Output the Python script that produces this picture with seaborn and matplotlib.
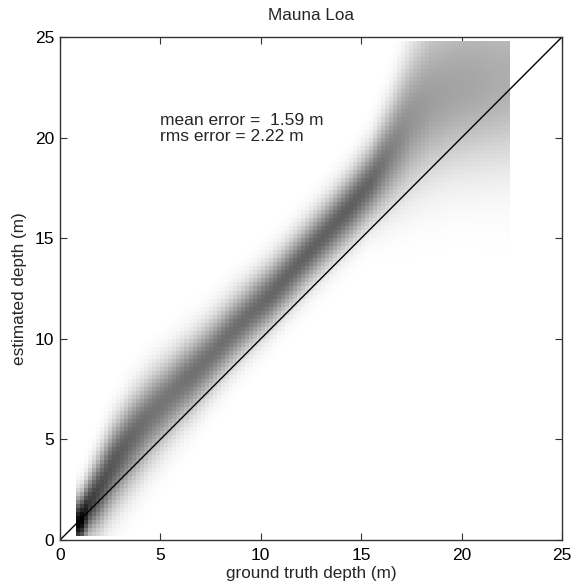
import numpy as np
import pandas as pd
import matplotlib
matplotlib.use("Agg")
import matplotlib.pyplot as plt
import seaborn as sns

# Ridge of the depth-estimate distribution, sampled along ground truth depth (m)
truth_knots = [0.9, 1.1, 1.5, 2.0, 2.6, 3.5, 4.5, 5.5, 6.5, 7.5, 8.5, 9.5, 10.5,
               11.5, 12.5, 13.5, 14.5, 15.5, 16.5, 17.5, 18.5, 19.5, 20.5, 21.5, 22.3]
ridge_est = [0.8, 1.0, 1.8, 2.6, 3.7, 5.0, 6.2, 7.2, 8.2, 9.2, 10.3, 11.3, 12.2,
             13.3, 14.4, 15.5, 16.6, 17.8, 19.3, 20.8, 21.8, 22.3, 22.6, 22.8, 23.0]
# peak frequency (normalised) along the ridge
ridge_peak = [1.0, 1.0, 0.78, 0.70, 0.66, 0.60, 0.55, 0.54, 0.56, 0.56, 0.57, 0.58, 0.60,
              0.61, 0.62, 0.62, 0.63, 0.60, 0.50, 0.42, 0.38, 0.36, 0.35, 0.33, 0.32]
# spread of the estimate above / below the ridge (m)
spread_up = [0.9, 0.9, 1.0, 1.15, 1.25, 1.3, 1.3, 1.25, 1.2, 1.15, 1.1, 1.05, 1.05,
             1.05, 1.05, 1.05, 1.1, 1.2, 1.6, 2.3, 3.0, 3.3, 3.5, 3.5, 3.5]
spread_down = [0.7, 0.8, 1.0, 1.3, 1.45, 1.55, 1.5, 1.4, 1.3, 1.2, 1.15, 1.1, 1.05,
               1.05, 1.05, 1.1, 1.15, 1.25, 1.7, 2.2, 2.5, 2.6, 2.7, 2.8, 2.9]

truth_range = (0.8, 22.4)
est_range = (0.2, 24.8)
bin_width = 0.2

mean_error = 1.59
rms_error = 2.22

# Bin grid
x_edges = np.arange(truth_range[0], truth_range[1] + 1e-9, bin_width)
y_edges = np.arange(est_range[0], est_range[1] + 1e-9, bin_width)
xc = 0.5 * (x_edges[:-1] + x_edges[1:])
yc = 0.5 * (y_edges[:-1] + y_edges[1:])

center = np.interp(xc, truth_knots, ridge_est)
peak = np.interp(xc, truth_knots, ridge_peak)
s_up = np.interp(xc, truth_knots, spread_up)
s_dn = np.interp(xc, truth_knots, spread_down)

X, Y = np.meshgrid(xc, yc, indexing="ij")
C = center[:, None]
S = np.where(Y >= C, s_up[:, None], s_dn[:, None])
W = peak[:, None] * np.exp(-0.5 * ((Y - C) / S) ** 2)
W[W < 0.004] = 0.0

df = pd.DataFrame({"truth": X.ravel(), "est": Y.ravel(), "w": W.ravel()})

sns.set_style("ticks")
plt.rcParams["font.family"] = ["Liberation Sans", "DejaVu Sans"]
plt.rcParams.update({
    "xtick.direction": "in", "ytick.direction": "in",
    "xtick.top": True, "ytick.right": True,
    "axes.edgecolor": "#333333", "xtick.color": "#333333", "ytick.color": "#333333",
    "xtick.labelcolor": "black", "ytick.labelcolor": "black",
    "axes.linewidth": 1.0,
})

fig = plt.figure(figsize=(5.73, 5.86), dpi=100)
ax = fig.add_axes([60 / 573, 46 / 586, 502 / 573, 503 / 586])

sns.histplot(data=df, x="truth", y="est", weights="w", bins=(x_edges, y_edges),
             cmap="gray_r", vmin=0, vmax=1, thresh=0, ax=ax)

axis_lim = [0, 25]
ax.plot(axis_lim, axis_lim, color="black", lw=1.0)

ax.set_xlim(axis_lim)
ax.set_ylim(axis_lim)
ax.set_xticks(np.arange(0, 26, 5))
ax.set_yticks(np.arange(0, 26, 5))
ax.tick_params(length=5, width=0.8, labelsize=12.5)
ax.tick_params(axis="x", pad=6)
ax.tick_params(axis="y", pad=4)
for s in ax.spines.values():
    s.set_visible(True)

ax.set_xlabel("ground truth depth (m)", fontsize=12.3, labelpad=2)
ax.set_ylabel("estimated depth (m)", fontsize=12.3, labelpad=6)
ax.set_title("Mauna Loa", fontsize=12.3, pad=12)

ax.text(5.0, 20.45, f"mean error =  {mean_error:.2f} m\nrms error = {rms_error:.2f} m",
        fontsize=12.5, va="center", ha="left", linespacing=1.15)

fig.savefig("out.png", dpi=100)
